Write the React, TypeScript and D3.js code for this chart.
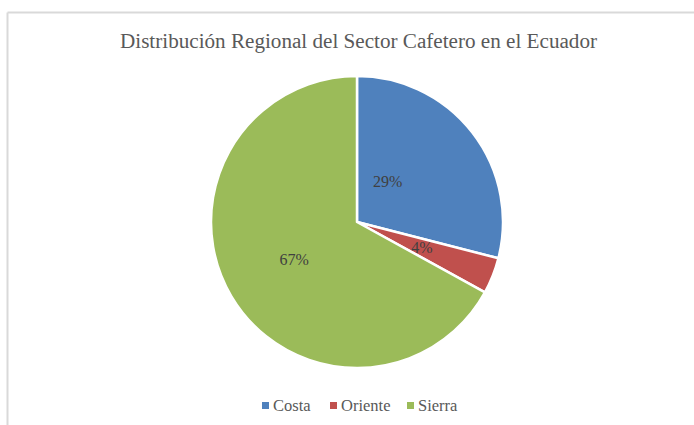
import React from "react";
import * as d3 from "d3";

const categories = ["Costa", "Oriente", "Sierra"];
const values = [29, 4, 67];
const colors = ["#4f81bd", "#c0504d", "#9bbb59"];
const title = "Distribución Regional del Sector Cafetero en el Ecuador";

const W = 694;
const H = 425;
const cx = 357;
const cy = 222;
const R = 146;
// label nudges (layout only)
const labelNudge: [number, number][] = [[-27, 4], [-3, -1], [0, 0]];

export default function App() {
  const pie = d3.pie<number>().sort(null).value((d) => d);
  const arcs = pie(values);
  const arc = d3.arc<d3.PieArcDatum<number>>().innerRadius(0).outerRadius(R);
  const labelArc = d3.arc<d3.PieArcDatum<number>>().innerRadius(R * 0.5).outerRadius(R * 0.5);
  const total = d3.sum(values);
  const legendX = [262, 330, 407];
  return (
    <svg width={W} height={H} style={{ position: "absolute", left: 0, top: 0, background: "#fff", fontFamily: "'Liberation Serif', 'Times New Roman', serif" }}>
      <rect x={0} y={0} width={W} height={H} fill="#fff" />
      <line x1={7.5} y1={12.5} x2={W} y2={12.5} stroke="#d9d9d9" strokeWidth={2} />
      <line x1={7.5} y1={12.5} x2={7.5} y2={H} stroke="#d9d9d9" strokeWidth={2} />
      <text x={358.5} y={48} textAnchor="middle" fontSize={20} fill="#595959"
        textLength={477} lengthAdjust="spacingAndGlyphs">{title}</text>
      <g transform={`translate(${cx},${cy})`}>
        {arcs.map((a, i) => (
          <path key={i} d={arc(a) || ""} fill={colors[i]} stroke="#fff" strokeWidth={2.5} strokeLinejoin="round" />
        ))}
        {arcs.map((a, i) => {
          const [x, y] = labelArc.centroid(a);
          return (
            <text key={i} x={x + labelNudge[i][0]} y={y + labelNudge[i][1]} textAnchor="middle"
              dominantBaseline="central" fontSize={16} fill="#404040">
              {Math.round((a.value / total) * 100)}%
            </text>
          );
        })}
      </g>
      {categories.map((c, i) => (
        <g key={c}>
          <rect x={legendX[i]} y={402} width={7} height={7} fill={colors[i]} />
          <text x={legendX[i] + 11} y={411} fontSize={16.5} fill="#595959">{c}</text>
        </g>
      ))}
    </svg>
  );
}
